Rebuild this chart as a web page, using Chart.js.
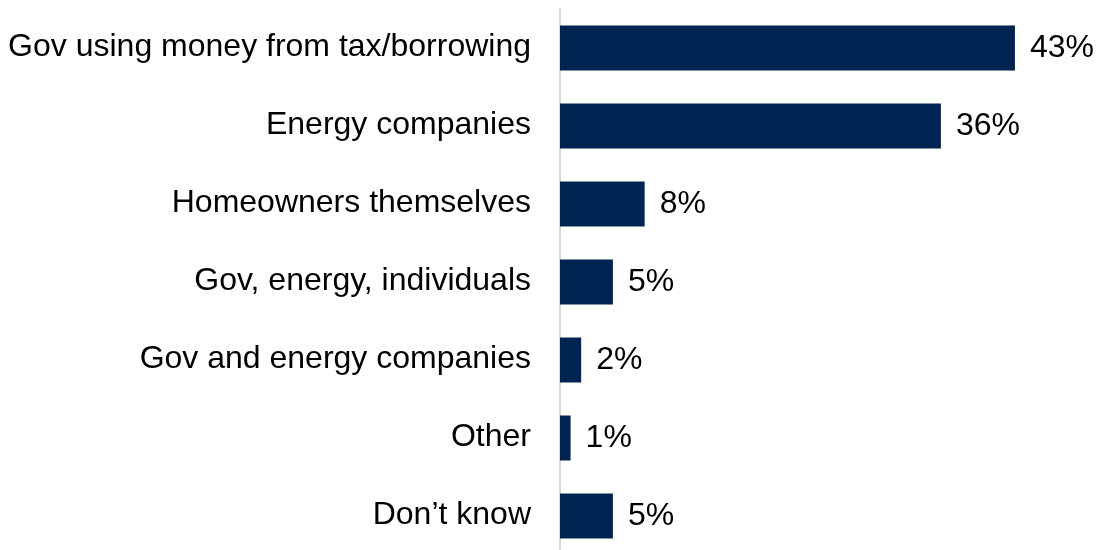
<!DOCTYPE html>
<html>
<head>
<meta charset="utf-8">
<script src="https://cdn.jsdelivr.net/npm/chart.js@4/dist/chart.umd.min.js"></script>
<style>
  html, body { margin: 0; padding: 0; background: #ffffff; overflow: hidden; }
  canvas { display: block; }
</style>
</head>
<body>
<canvas id="c" width="1098" height="556"></canvas>
<script>
// Who should pay – share of respondents (%)
const categories = [
  "Gov using money from tax/borrowing",
  "Energy companies",
  "Homeowners themselves",
  "Gov, energy, individuals",
  "Gov and energy companies",
  "Other",
  "Don\u2019t know"
];
const shares = [43, 36, 8, 5, 2, 1, 5];
const valueLabels = shares.map(v => v + "%");

const FONT = "'Liberation Sans', Arial, sans-serif";
const NAVY = "#002452";

// Writes the percentage just past the end of each bar
const barValueLabels = {
  id: "barValueLabels",
  afterDatasetsDraw(chart) {
    const { ctx } = chart;
    const meta = chart.getDatasetMeta(0);
    ctx.save();
    ctx.font = "32px " + FONT;
    ctx.fillStyle = "#000000";
    ctx.textAlign = "left";
    ctx.textBaseline = "middle";
    meta.data.forEach((bar, i) => {
      ctx.fillText(valueLabels[i], bar.x + 15, bar.y);
    });
    ctx.restore();
  }
};

new Chart(document.getElementById("c"), {
  type: "bar",
  data: {
    labels: categories,
    datasets: [{
      data: shares,
      backgroundColor: NAVY,
      borderWidth: 0,
      categoryPercentage: 1,
      barPercentage: 0.577
    }]
  },
  options: {
    indexAxis: "y",
    responsive: false,
    animation: false,
    layout: { padding: { top: 9, right: 9, bottom: 1, left: 0 } },
    plugins: {
      legend: { display: false },
      tooltip: { enabled: false }
    },
    scales: {
      x: {
        min: 0,
        max: 50,
        display: false
      },
      y: {
        afterFit(scale) {
          // fixed label column; bands run edge to edge vertically
          scale.width = 560;
          scale.paddingTop = 0;
          scale.paddingBottom = 0;
        },
        grid: { display: false, drawTicks: false },
        border: { display: true, color: "#d9d9d9", width: 2 },
        ticks: {
          padding: 29,
          labelOffset: -1,
          color: "#000000",
          font: { family: FONT, size: 32 }
        }
      }
    }
  },
  plugins: [barValueLabels]
});
</script>
</body>
</html>
